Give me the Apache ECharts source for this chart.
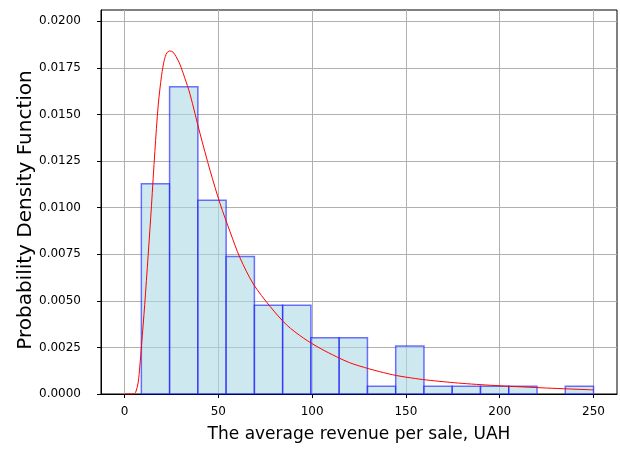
<!DOCTYPE html>
<html>
<head>
<meta charset="utf-8">
<script src="https://cdn.jsdelivr.net/npm/echarts@6/dist/echarts.min.js"></script>
<style>
html, body { margin: 0; background: #fff; }
#chart { width: 620px; height: 450px; }
</style>
</head>
<body>
<div id="chart"></div>
<script>
// histogram bins (edges) and density heights
const binEdges = [9, 24.06, 39.13, 54.19, 69.25, 84.31, 99.38, 114.44, 129.5, 144.56, 159.63, 174.69, 189.75, 204.81, 219.88, 234.94, 250]
const density = [0.01128, 0.01648, 0.01039, 0.00738, 0.00476, 0.00476, 0.00302, 0.00302, 0.00041, 0.00257, 0.00041, 0.00041, 0.00041, 0.00041, 0, 0.00041]

// fitted density curve
const curveX = [0, 5, 6, 7.3, 8.2, 9.1, 10.8, 12.6, 14.4, 16.2, 18, 19.8, 21.2, 22.6, 24.2, 25.8, 27.5, 29.5, 32, 34.9, 40.2, 45.6, 51, 56.3, 61.6, 68.7, 77.6, 86.5, 95.4, 104.3, 113, 120, 128, 136, 145, 155, 163, 172, 180, 190, 200, 212, 225, 237, 250]
const curveY = [0, 0, 0.0001, 0.0006, 0.0015, 0.0026, 0.0048, 0.0074, 0.0101, 0.0130, 0.0155, 0.0171, 0.0179, 0.01830, 0.0184, 0.01835, 0.0181, 0.0177, 0.0170, 0.0161, 0.0140, 0.0120, 0.0102, 0.0087, 0.0073, 0.0059, 0.0047, 0.0037, 0.0030, 0.00245, 0.0020, 0.00168, 0.00142, 0.0012, 0.00099, 0.00083, 0.00073, 0.00064, 0.00057, 0.0005, 0.00044, 0.00038, 0.00032, 0.00027, 0.00022]

const xTicks = [0, 50, 100, 150, 200, 250]
const yTicks = [0, 0.0025, 0.005, 0.0075, 0.01, 0.0125, 0.015, 0.0175, 0.02]

const chart = echarts.init(document.getElementById('chart'))

const font = 'DejaVu Sans'
const gridLine = { show: true, lineStyle: { color: '#b0b0b0', width: 1 } }

chart.setOption({
  animation: false,
  grid: {
    left: 101, right: 3, top: 10, bottom: 56,
    show: true, borderColor: '#000', borderWidth: 1, backgroundColor: 'transparent'
  },
  xAxis: {
    type: 'value',
    min: -12.5,
    max: 262.5,
    name: 'The average revenue per sale, UAH',
    nameLocation: 'middle',
    nameGap: 32,
    nameMoveOverlap: false,
    nameTextStyle: { fontFamily: font, fontSize: 17, color: '#000' },
    axisLine: { show: true, onZero: false, lineStyle: { color: '#000' } },
    axisTick: { show: true, length: 4, customValues: xTicks, lineStyle: { color: '#000' } },
    axisLabel: { customValues: xTicks, fontFamily: font, fontSize: 12, color: '#000', margin: 12 },
    splitLine: gridLine
  },
  yAxis: {
    type: 'value',
    min: 0,
    max: 0.0206,
    name: 'Probability Density Function',
    nameLocation: 'middle',
    nameGap: 65,
    nameMoveOverlap: false,
    nameTextStyle: { fontFamily: font, fontSize: 20, color: '#000', padding: [0, 16, 0, 0] },
    axisLine: { show: true, onZero: false, lineStyle: { color: '#000' } },
    axisTick: { show: true, length: 4, customValues: yTicks, lineStyle: { color: '#000' } },
    axisLabel: {
      customValues: yTicks, fontFamily: font, fontSize: 12, color: '#000', margin: 20,
      formatter: v => v.toFixed(4)
    },
    splitLine: gridLine
  },
  series: [
    {
      type: 'custom',
      data: density.map((d, i) => [binEdges[i], binEdges[i + 1], d]),
      encode: { x: [0, 1], y: 2 },
      renderItem(params, api) {
        if (!api.value(2)) return null
        const p0 = api.coord([api.value(0), api.value(2)])
        const p1 = api.coord([api.value(1), 0])
        return {
          type: 'rect',
          shape: { x: p0[0], y: p0[1], width: p1[0] - p0[0], height: p1[1] - p0[1] },
          style: { fill: 'rgba(173,216,230,0.6)', stroke: 'rgba(0,0,255,0.55)', lineWidth: 1.5 }
        }
      }
    },
    {
      type: 'line',
      data: curveX.map((x, i) => [x, curveY[i]]),
      smooth: 0.3,
      symbol: 'none',
      lineStyle: { color: '#ff0000', width: 1 },
      z: 5
    }
  ]
})
</script>
</body>
</html>
